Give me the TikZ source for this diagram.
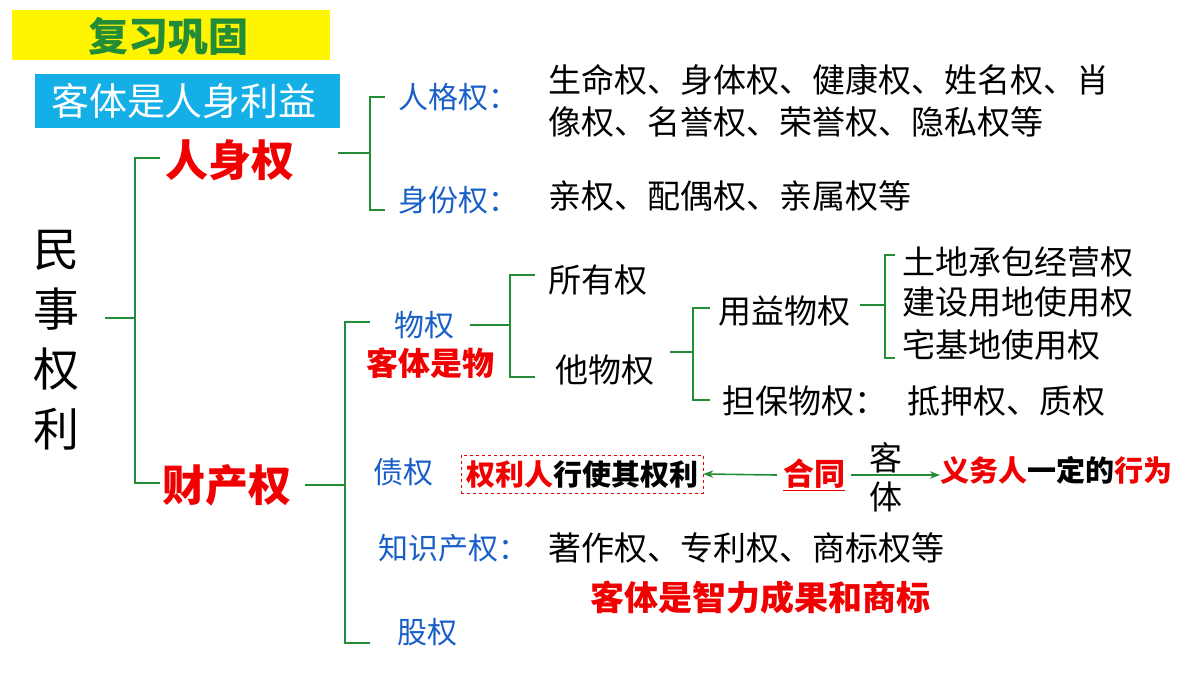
\documentclass[tikz,border=0pt]{standalone}
\usepackage{fontspec}
\setmainfont{Noto Sans CJK SC}
\usetikzlibrary{arrows.meta}
\definecolor{brgreen}{RGB}{35,140,55}
\definecolor{txblue}{RGB}{25,95,200}
\definecolor{txred}{RGB}{240,0,0}
\definecolor{bgcyan}{RGB}{20,175,230}
\definecolor{bgyellow}{RGB}{255,245,0}
\tikzset{
	br/.style={draw=brgreen, line width=2.4pt},
	bl/.style={text=txblue, font=\fontsize{30}{32}\selectfont, anchor=west},
	bk/.style={text=black, font=\fontsize{33}{36}\selectfont, anchor=west},
	rd/.style={text=txred, font=\fontsize{43}{45}\selectfont\bfseries, anchor=west},
	rs/.style={text=txred, font=\fontsize{32}{34}\selectfont\bfseries, anchor=west},
	arr/.style={draw=brgreen, line width=1.6pt, -{Stealth[length=10pt]}}
}
\begin{document}
\begin{tikzpicture}[x=1pt,y=-1pt,inner sep=0pt]
	\useasboundingbox (0,0) rectangle (1200,675);
	\fill[bgyellow] (12,10) rectangle (330,60);
	\node[text=brgreen, font=\fontsize{40}{42}\selectfont\bfseries] (fx) at (168,36) {复习巩固};
	\fill[bgcyan] (35,74) rectangle (340,128);
	\node[text=white, font=\fontsize{38}{40}\selectfont] (kt) at (184,101) {客体是人身利益};
	\node[font=\fontsize{46}{60}\selectfont, align=center] (ms) at (57,340) {民\\事\\权\\利};
%
	\node[rd] (rs) at (165,160) {人身权};
	\node[rd] (cc) at (162,485) {财产权};
	\draw[br] (105,318) -- (135,318) (160,158) -- (135,158) -- (135,483) -- (160,483);
%
	\node[bl] (rg) at (398,97) {人格权：};
	\node[bl] (sf) at (398,200) {身份权：};
	\node[bk] (rg1) at (548,80) {生命权、身体权、健康权、姓名权、肖};
	\node[bk] (rg2) at (548,122) {像权、名誉权、荣誉权、隐私权等};
	\node[bk] (sf1) at (548,196) {亲权、配偶权、亲属权等};
	\draw[br] (338,153) -- (370,153) (385,97) -- (370,97) -- (370,210) -- (385,210);
%
	\node[bl] (wq) at (394,325) {物权};
	\node[rs] (kw) at (366,363) {客体是物};
	\draw[br] (470,325) -- (510,325) (535,275) -- (510,275) -- (510,377) -- (535,377);
	\node[bk] (sy) at (548,280) {所有权};
	\node[bk] (tw) at (555,370) {他物权};
	\draw[br] (670,352) -- (693,352) (710,308) -- (693,308) -- (693,400) -- (710,400);
	\node[bk] (yy) at (718,311) {用益物权};
	\node[bk] (db) at (722,401) {担保物权：};
	\node[bk] (dy) at (907,401) {抵押权、质权};
	\draw[br] (860,305) -- (885,305) (895,255) -- (885,255) -- (885,358) -- (895,358);
	\node[bk] (td) at (902,262) {土地承包经营权};
	\node[bk] (js) at (902,302) {建设用地使用权};
	\node[bk] (zj) at (902,345) {宅基地使用权};
%
	\node[bl] (zq) at (373,472) {债权};
	\node[draw=txred, dashed, line width=0.6pt, inner sep=5pt, font=\fontsize{29}{31}\selectfont\bfseries] (qlr) at (582,474) {\textcolor{txred}{权利人}行使其权利};
	\node[text=txred, font=\fontsize{31}{33}\selectfont\bfseries] (ht) at (814,475) {\underline{合同}};
	\coordinate (ar) at (940,475);
	\draw[arr] (ht.west) ++(-6,0) -- (qlr.east);
	\draw[arr] (ht.east) ++(6,0) -- (ar);
	\node[bk, anchor=center] (ke) at (886,458) {客};
	\node[bk, anchor=center] (ti) at (886,497) {体};
	\node[anchor=west, font=\fontsize{29}{31}\selectfont\bfseries] (yw) at (940,470) {\textcolor{txred}{义务人}一定的\textcolor{txred}{行为}};
%
	\node[bl] (zs) at (378,548) {知识产权：};
	\node[bk] (zz) at (548,548) {著作权、专利权、商标权等};
	\node[rs, font=\fontsize{34}{36}\selectfont\bfseries] (zl) at (590,598) {客体是智力成果和商标};
	\node[bl] (gq) at (397,632) {股权};
	\draw[br] (305,485) -- (345,485) (370,322) -- (345,322) -- (345,643) -- (370,643);
\end{tikzpicture}
\end{document}
